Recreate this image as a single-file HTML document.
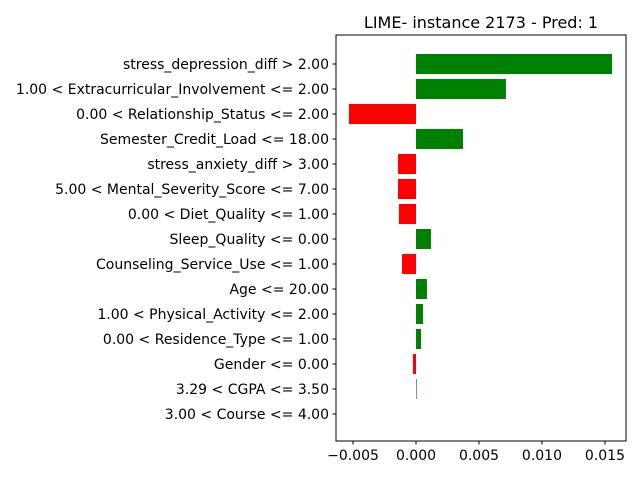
<!DOCTYPE html>
<html><head><meta charset="utf-8"><style>
body{margin:0;background:#fff;}
svg text{font-family:"DejaVu Sans","Liberation Sans",sans-serif;}
</style></head><body>
<svg id="chart" width="640" height="480" xmlns="http://www.w3.org/2000/svg">
<rect width="640" height="480" fill="#fff"/>
<text x="481" y="28" font-size="16" text-anchor="middle">LIME- instance 2173 - Pred: 1</text>
<g id="bars"></g><g id="ylabels"></g><g id="xticks"></g>
<rect x="336" y="35" width="290" height="406" fill="none" stroke="#000" stroke-width="1"/>
</svg>
<script>
const categories=["stress_depression_diff > 2.00","1.00 < Extracurricular_Involvement <= 2.00","0.00 < Relationship_Status <= 2.00","Semester_Credit_Load <= 18.00","stress_anxiety_diff > 3.00","5.00 < Mental_Severity_Score <= 7.00","0.00 < Diet_Quality <= 1.00","Sleep_Quality <= 0.00","Counseling_Service_Use <= 1.00","Age <= 20.00","1.00 < Physical_Activity <= 2.00","0.00 < Residence_Type <= 1.00","Gender <= 0.00","3.29 < CGPA <= 3.50","3.00 < Course <= 4.00"];
const values=[0.01556,0.00714,-0.00532,0.00373,-0.00143,-0.00143,-0.00135,0.00119,-0.00111,0.00087,0.00056,0.0004,-0.00024,0.00005,0];
const tickValues=[-0.005,0,0.005,0.01,0.015];
const tickLabels=["−0.005","0.000","0.005","0.010","0.015"];
const xMin=-0.00635,xMax=0.01667,plotLeft=336,plotRight=626,plotTop=35,plotBottom=441;
const xs=v=>plotLeft+(v-xMin)/(xMax-xMin)*(plotRight-plotLeft);
const band=25;
const ys=i=>64+band*i;
const NS="http://www.w3.org/2000/svg";
const gb=document.getElementById('bars'),gl=document.getElementById('ylabels'),gt=document.getElementById('xticks');
categories.forEach((c,i)=>{
  const v=values[i];
  const r=document.createElementNS(NS,'rect');
  r.setAttribute('x',Math.min(xs(0),xs(v)));r.setAttribute('width',Math.abs(xs(v)-xs(0)));
  r.setAttribute('y',ys(i)-band*0.4);r.setAttribute('height',band*0.8);
  r.setAttribute('fill',v>=0?'green':'red');
  
  
  gb.appendChild(r);
  const tk=document.createElementNS(NS,'line');
  tk.setAttribute('x1',plotLeft-3.5);tk.setAttribute('x2',plotLeft);tk.setAttribute('y1',ys(i));tk.setAttribute('y2',ys(i));tk.setAttribute('stroke','#000');
  
  
  gl.appendChild(tk);
  const t=document.createElementNS(NS,'text');
  t.setAttribute('x',plotLeft-7);t.setAttribute('y',ys(i)+5);t.setAttribute('font-size','14');t.setAttribute('text-anchor','end');
  t.textContent=c;
  
  
  gl.appendChild(t);
});
tickValues.forEach((v,i)=>{
  const tk=document.createElementNS(NS,'line');
  tk.setAttribute('x1',xs(v));tk.setAttribute('x2',xs(v));tk.setAttribute('y1',plotBottom);tk.setAttribute('y2',plotBottom+3.5);tk.setAttribute('stroke','#000');
  
  
  gt.appendChild(tk);
  const t=document.createElementNS(NS,'text');
  t.setAttribute('x',xs(v));t.setAttribute('y',plotBottom+19);t.setAttribute('font-size','14');t.setAttribute('text-anchor','middle');
  t.textContent=tickLabels[i];
  
  
  gt.appendChild(t);
});
</script>
</body></html>
